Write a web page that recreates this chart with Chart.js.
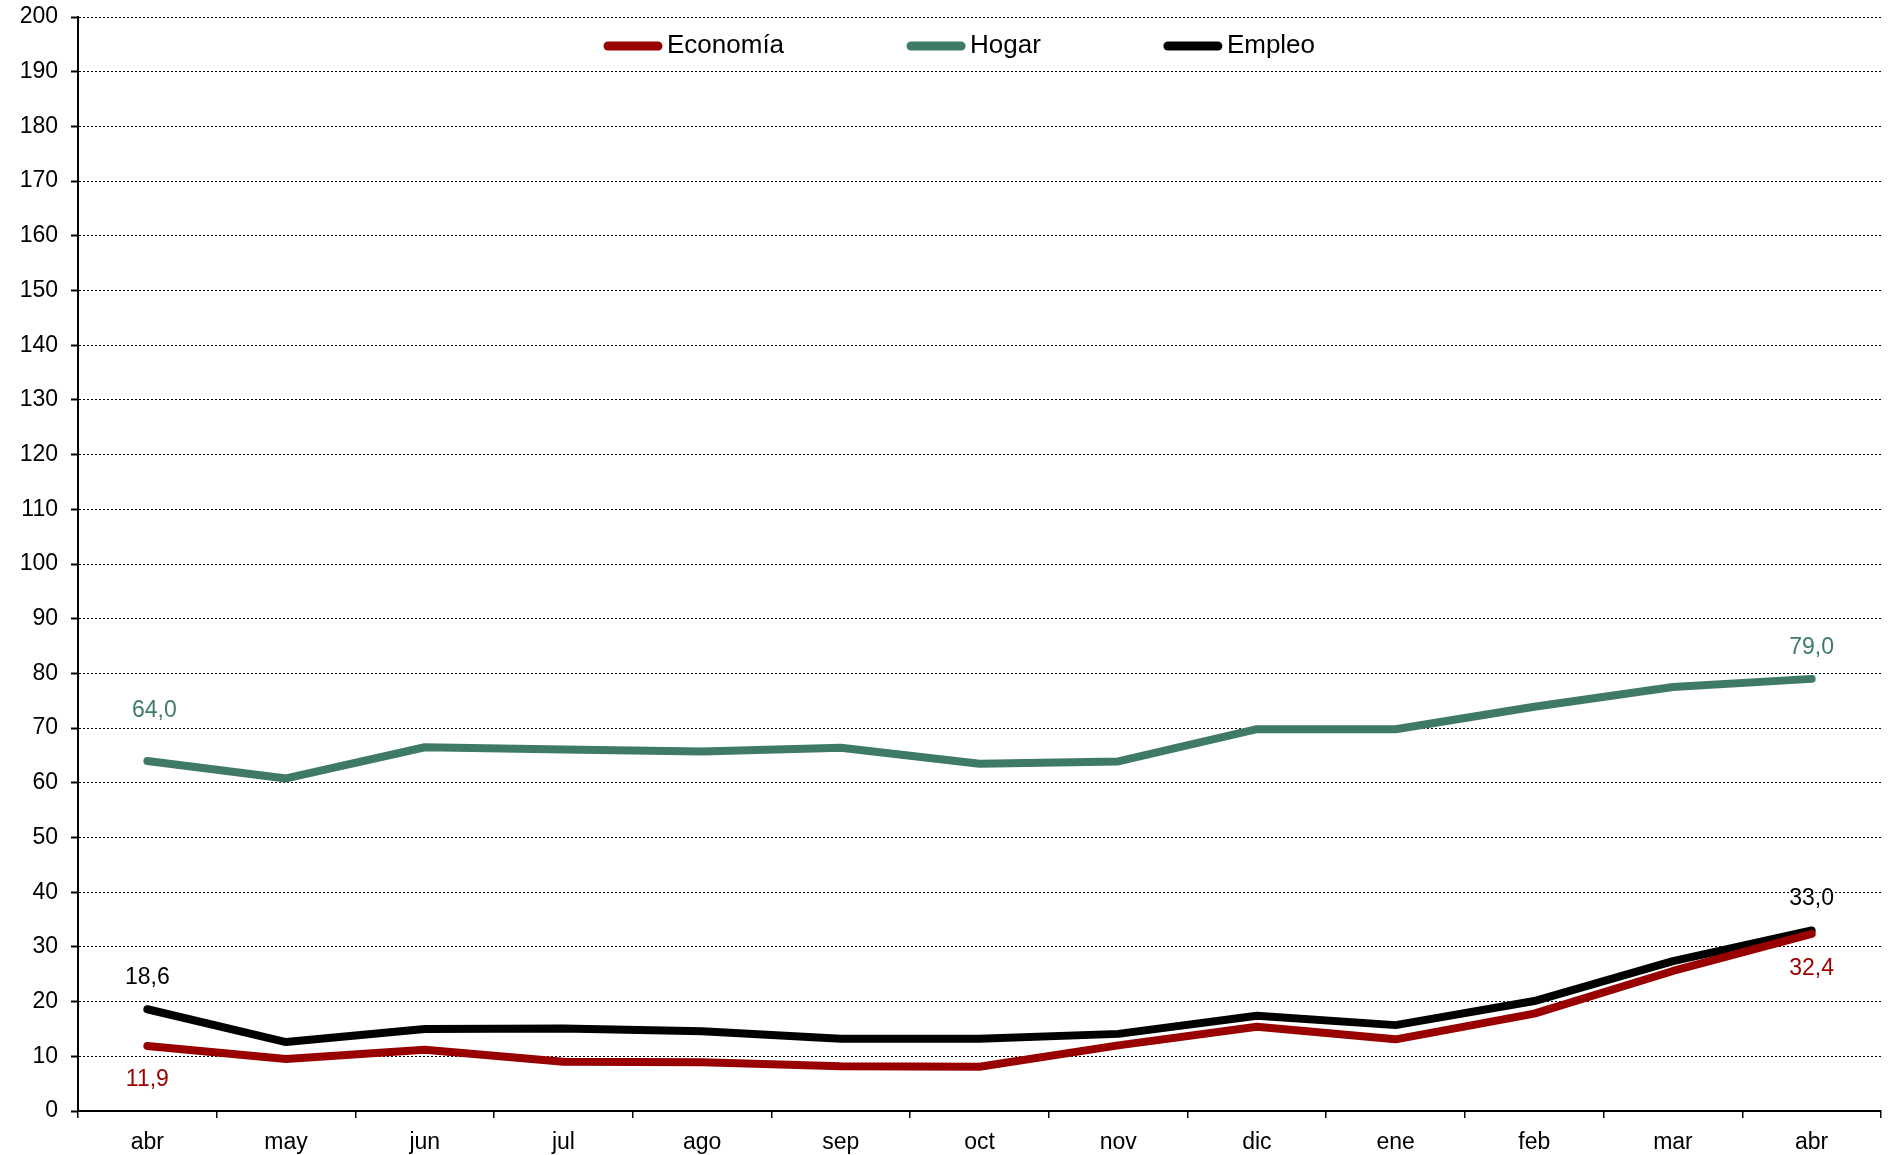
<!DOCTYPE html>
<html>
<head>
    <title>Economía, Hogar y Empleo</title>
    <script src="https://cdn.jsdelivr.net/npm/chart.js"></script>
    <style>
        body { margin: 0; background: #fff; }
        #wrap { width: 1888px; height: 1155px; }
    </style>
</head>
<body>
    <div id="wrap"><canvas id="myChart"></canvas></div>

    <script>
        // months on the x axis (abr to abr)
        var months = ['abr', 'may', 'jun', 'jul', 'ago', 'sep', 'oct', 'nov', 'dic', 'ene', 'feb', 'mar', 'abr'];

        // series
        var economia = [11.9, 9.5, 11.2, 9.0, 8.9, 8.2, 8.1, 12.0, 15.4, 13.1, 17.8, 25.6, 32.4];
        var hogar = [64.0, 60.8, 66.5, 66.1, 65.7, 66.4, 63.5, 63.9, 69.8, 69.8, 73.9, 77.5, 79.0];
        var empleo = [18.6, 12.6, 15.0, 15.1, 14.6, 13.2, 13.2, 14.1, 17.4, 15.7, 20.1, 27.4, 33.0];

        var font = '"Liberation Sans", Arial, sans-serif';

        // value labels at the first and last point of each line
        var pointLabels = {
            id: 'pointLabels',
            afterDatasetsDraw: function(chart, args, opts) {
                var ctx = chart.ctx;
                ctx.save();
                ctx.font = opts.size + 'px ' + font;
                ctx.textAlign = 'center';
                ctx.textBaseline = 'middle';
                opts.items.forEach(function(it) {
                    var ds = chart.data.datasets[it.dataset];
                    var pt = chart.getDatasetMeta(it.dataset).data[it.index];
                    ctx.fillStyle = ds.borderColor;
                    ctx.fillText(ds.data[it.index].toFixed(1).replace('.', ','), pt.x + it.dx, pt.y + it.dy);
                });
                ctx.restore();
            }
        };

        // legend sitting inside the plot, line sample + label
        var lineLegend = {
            id: 'lineLegend',
            afterDraw: function(chart, args, opts) {
                var ctx = chart.ctx;
                var x = opts.left;
                var y = opts.top;
                ctx.save();
                ctx.font = opts.size + 'px ' + font;
                ctx.textBaseline = 'middle';
                ctx.lineCap = 'round';
                chart.data.datasets.forEach(function(ds) {
                    ctx.strokeStyle = ds.borderColor;
                    ctx.lineWidth = 9;
                    ctx.beginPath();
                    ctx.moveTo(x + 5, y);
                    ctx.lineTo(x + opts.sample - 5, y);
                    ctx.stroke();
                    x += opts.sample + 4;
                    ctx.fillStyle = '#000';
                    ctx.fillText(ds.label, x, y);
                    x += ctx.measureText(ds.label).width + opts.gap;
                });
                ctx.restore();
            }
        };

        var ctx = document.getElementById('myChart').getContext('2d');

        var chart = new Chart(ctx, {
            type: 'line',
            data: {
                labels: months,
                datasets: [{
                    label: 'Economía',
                    data: economia,
                    borderColor: '#990000'
                }, {
                    label: 'Hogar',
                    data: hogar,
                    borderColor: '#3f7a67'
                }, {
                    label: 'Empleo',
                    data: empleo,
                    borderColor: '#000000'
                }]
            },
            options: {
                responsive: true,
                maintainAspectRatio: false,
                animation: false,
                layout: { padding: { top: 17, right: 7, left: 0, bottom: 0 } },
                elements: {
                    line: { borderWidth: 8, borderCapStyle: 'round', borderJoinStyle: 'round', tension: 0, fill: false },
                    point: { radius: 0, hoverRadius: 0 }
                },
                plugins: {
                    legend: { display: false },
                    tooltip: { enabled: false },
                    lineLegend: { left: 603, top: 46, sample: 60, gap: 122, size: 26 },
                    pointLabels: {
                        size: 23,
                        items: [
                            { dataset: 0, index: 0, dx: 0, dy: 34 },
                            { dataset: 0, index: 12, dx: 0, dy: 35 },
                            { dataset: 1, index: 0, dx: 7, dy: -50 },
                            { dataset: 1, index: 12, dx: 0, dy: -31 },
                            { dataset: 2, index: 0, dx: 0, dy: -32 },
                            { dataset: 2, index: 12, dx: 0, dy: -32 }
                        ]
                    }
                },
                scales: {
                    x: {
                        offset: true,
                        afterFit: function(scale) { scale.height = 44; },
                        grid: {
                            offset: true,
                            drawOnChartArea: false,
                            tickLength: 7,
                            color: '#000',
                            lineWidth: 1.5
                        },
                        border: { color: '#000', width: 2 },
                        ticks: {
                            color: '#000',
                            padding: 11,
                            maxRotation: 0,
                            font: { family: font, size: 23 }
                        }
                    },
                    y: {
                        min: 0,
                        max: 200,
                        afterFit: function(scale) {
                            scale.width = 78;
                            // let the layout padding alone decide where the plot starts
                            scale.paddingTop = 0;
                            scale.paddingBottom = 0;
                        },
                        grid: {
                            color: '#000',
                            lineWidth: 1,
                            tickLength: 7,
                            tickColor: '#000',
                            tickWidth: 2
                        },
                        border: { color: '#000', width: 2, dash: [2, 2] },
                        ticks: {
                            stepSize: 10,
                            color: '#000',
                            padding: 13,
                            font: { family: font, size: 23 }
                        }
                    }
                }
            },
            plugins: [pointLabels, lineLegend]
        });
    </script>
</body>
</html>
